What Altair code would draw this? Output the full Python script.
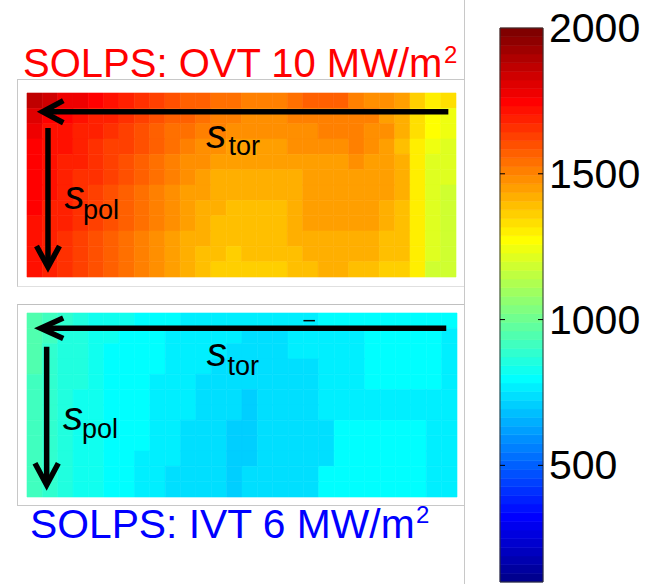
import math

import altair as alt
import numpy as np
import pandas as pd

# Heat flux on the divertor target tiles, 12 poloidal rows x 28 toroidal columns
# (row 0 at the top, column 0 at the left).
OVT_ROWS = [
    [1860, 1830, 1780, 1770, 1760, 1730, 1690, 1650, 1630, 1600, 1580, 1560, 1540, 1530, 1520, 1520, 1520, 1530, 1560, 1560, 1560, 1520, 1490, 1470, 1440, 1370, 1310, 1340],
    [1820, 1760, 1740, 1720, 1700, 1690, 1660, 1630, 1600, 1580, 1560, 1540, 1520, 1510, 1490, 1490, 1490, 1520, 1520, 1520, 1520, 1510, 1500, 1450, 1420, 1330, 1260, 1250],
    [1780, 1730, 1720, 1700, 1680, 1660, 1640, 1610, 1580, 1550, 1530, 1510, 1500, 1490, 1480, 1480, 1480, 1490, 1490, 1500, 1500, 1500, 1490, 1470, 1420, 1330, 1260, 1250],
    [1760, 1720, 1710, 1690, 1670, 1640, 1620, 1590, 1560, 1530, 1510, 1490, 1470, 1460, 1450, 1450, 1450, 1470, 1470, 1480, 1480, 1500, 1480, 1450, 1400, 1290, 1240, 1220],
    [1750, 1720, 1700, 1680, 1660, 1630, 1600, 1570, 1540, 1510, 1490, 1470, 1450, 1440, 1440, 1440, 1440, 1440, 1460, 1460, 1460, 1480, 1450, 1450, 1420, 1290, 1210, 1210],
    [1750, 1720, 1690, 1670, 1650, 1620, 1590, 1560, 1530, 1500, 1470, 1450, 1430, 1420, 1420, 1420, 1420, 1420, 1450, 1450, 1450, 1450, 1450, 1440, 1410, 1290, 1210, 1200],
    [1740, 1710, 1690, 1660, 1640, 1610, 1580, 1550, 1520, 1490, 1460, 1440, 1420, 1410, 1410, 1410, 1410, 1420, 1450, 1450, 1450, 1450, 1450, 1440, 1410, 1290, 1210, 1190],
    [1740, 1700, 1680, 1650, 1630, 1600, 1570, 1540, 1510, 1480, 1450, 1430, 1410, 1400, 1400, 1390, 1390, 1410, 1440, 1440, 1440, 1440, 1440, 1430, 1400, 1290, 1200, 1170],
    [1730, 1700, 1680, 1650, 1620, 1590, 1560, 1530, 1500, 1470, 1440, 1420, 1400, 1390, 1400, 1390, 1390, 1410, 1440, 1440, 1440, 1440, 1440, 1430, 1400, 1290, 1200, 1170],
    [1730, 1700, 1670, 1640, 1610, 1580, 1550, 1520, 1490, 1460, 1430, 1410, 1390, 1380, 1390, 1390, 1390, 1410, 1430, 1430, 1430, 1410, 1420, 1400, 1390, 1290, 1210, 1170],
    [1720, 1690, 1660, 1630, 1600, 1570, 1540, 1510, 1480, 1450, 1420, 1400, 1380, 1370, 1380, 1380, 1380, 1400, 1430, 1430, 1430, 1410, 1420, 1400, 1390, 1290, 1210, 1170],
    [1720, 1690, 1660, 1630, 1600, 1560, 1530, 1500, 1470, 1440, 1410, 1390, 1370, 1360, 1370, 1370, 1370, 1390, 1400, 1410, 1410, 1390, 1380, 1370, 1350, 1290, 1190, 1170],
]

IVT_ROWS = [
    [950, 910, 880, 850, 830, 815, 815, 800, 800, 785, 780, 775, 770, 765, 765, 765, 765, 770, 780, 785, 795, 800, 805, 810, 810, 800, 795, 790],
    [940, 905, 870, 850, 830, 815, 812, 795, 790, 775, 770, 765, 760, 755, 750, 750, 750, 760, 780, 780, 780, 780, 812, 812, 812, 790, 785, 770],
    [940, 900, 870, 845, 830, 812, 810, 795, 785, 770, 765, 760, 755, 750, 750, 750, 750, 760, 780, 780, 780, 780, 812, 812, 812, 790, 785, 770],
    [935, 895, 865, 845, 825, 812, 805, 790, 785, 765, 760, 755, 750, 745, 740, 740, 740, 740, 740, 765, 765, 765, 790, 812, 812, 785, 785, 760],
    [930, 895, 865, 845, 825, 812, 805, 790, 780, 765, 760, 750, 745, 740, 740, 740, 740, 740, 740, 765, 765, 765, 785, 795, 795, 785, 785, 760],
    [930, 890, 860, 840, 825, 810, 805, 785, 780, 760, 755, 745, 740, 730, 720, 740, 740, 740, 740, 775, 775, 775, 775, 775, 775, 775, 755, 755],
    [925, 890, 860, 840, 825, 810, 800, 785, 780, 760, 755, 745, 735, 725, 720, 740, 740, 740, 740, 775, 775, 775, 775, 775, 775, 775, 755, 755],
    [925, 890, 860, 840, 820, 810, 800, 785, 775, 755, 750, 740, 730, 720, 720, 730, 730, 750, 750, 750, 785, 785, 785, 785, 785, 785, 755, 755],
    [920, 885, 860, 840, 820, 808, 800, 785, 775, 755, 750, 740, 730, 720, 720, 730, 730, 750, 750, 750, 785, 785, 785, 785, 785, 785, 755, 755],
    [920, 885, 855, 835, 820, 808, 800, 780, 775, 755, 745, 735, 730, 720, 720, 730, 730, 750, 750, 750, 785, 785, 785, 785, 785, 785, 755, 755],
    [920, 885, 855, 835, 820, 805, 795, 780, 770, 750, 745, 735, 725, 720, 725, 740, 740, 740, 740, 785, 785, 785, 785, 785, 785, 785, 755, 755],
    [915, 880, 855, 835, 815, 805, 795, 780, 770, 750, 745, 735, 725, 720, 725, 740, 740, 740, 740, 785, 785, 785, 785, 785, 785, 785, 755, 755],
]

OVT_TITLE = "SOLPS: OVT 10 MW/m"
IVT_TITLE = "SOLPS: IVT 6 MW/m"
CBAR_DOMAIN = [100, 2000]
CBAR_LABELS = [500, 1000, 1500, 2000]
CBAR_TICKS = [500, 1000, 1500]
N_LEVELS = 64

FONT = "Liberation Sans"


def jet(m):
    """MATLAB-style jet colormap with m entries, as hex strings."""
    n = math.ceil(m / 4)
    u = np.concatenate([np.arange(1, n + 1) / n, np.ones(n - 1), np.arange(n, 0, -1) / n])
    g = math.ceil(n / 2) - (1 if m % 4 == 1 else 0) + np.arange(1, len(u) + 1)
    r = g + n
    b = g - n
    rgb = np.zeros((m, 3))
    rgb[r[r <= m] - 1, 0] = u[r <= m]
    rgb[g[g <= m] - 1, 1] = u[g <= m]
    rgb[b[b >= 1] - 1, 2] = u[b >= 1]
    return ["#%02x%02x%02x" % tuple(int(round(c * 255)) for c in row) for row in rgb]


JET = jet(N_LEVELS)
color_scale = alt.Scale(type="quantize", domain=CBAR_DOMAIN, range=JET)


def cells(rows):
    recs = []
    for i, row in enumerate(rows):
        for j, v in enumerate(row):
            recs.append({"c0": j, "c1": j + 1, "r0": i, "r1": i + 1, "v": v})
    return pd.DataFrame(recs)


def panel_scales(x_rng, y_rng):
    sx = alt.Scale(domain=[0, 28], range=x_rng, nice=False, zero=False)
    sy = alt.Scale(domain=[0, 12], range=y_rng, nice=False, zero=False)
    return sx, sy


def heat_layer(rows, sx, sy):
    return alt.Chart(cells(rows)).mark_rect(strokeWidth=0.6).encode(
        x=alt.X("c0:Q", scale=sx, axis=None),
        x2="c1:Q",
        y=alt.Y("r0:Q", scale=sy, axis=None),
        y2="r1:Q",
        color=alt.Color("v:Q", scale=color_scale, legend=None),
        stroke=alt.Stroke("v:Q", scale=color_scale, legend=None),
    )


def path_layer(paths, sx, sy, width):
    recs = []
    for pid, pts in enumerate(paths):
        for k, (x, y) in enumerate(pts):
            recs.append({"pid": pid, "k": k, "x": x, "y": y})
    return alt.Chart(pd.DataFrame(recs)).mark_line(
        color="black", strokeWidth=width, strokeJoin="miter", strokeCap="butt"
    ).encode(
        x=alt.X("x:Q", scale=sx, axis=None),
        y=alt.Y("y:Q", scale=sy, axis=None),
        detail="pid:N",
        order="k:Q",
    )


def label_layers(s_tor, s_pol, sx, sy):
    # s_tor / s_pol : italic "s" with an upright subscript
    main = pd.DataFrame([
        {"x": s_tor[0], "y": s_tor[1], "t": "s"},
        {"x": s_pol[0], "y": s_pol[1], "t": "s"},
    ])
    sub = pd.DataFrame([
        {"x": s_tor[2], "y": s_tor[3], "t": "tor"},
        {"x": s_pol[2], "y": s_pol[3], "t": "pol"},
    ])
    big = alt.Chart(main).mark_text(
        font=FONT, fontSize=40, fontStyle="italic", align="left", baseline="alphabetic", color="black"
    ).encode(x=alt.X("x:Q", scale=sx, axis=None), y=alt.Y("y:Q", scale=sy, axis=None), text="t:N")
    small = alt.Chart(sub).mark_text(
        font=FONT, fontSize=27, align="left", baseline="alphabetic", color="black"
    ).encode(x=alt.X("x:Q", scale=sx, axis=None), y=alt.Y("y:Q", scale=sy, axis=None), text="t:N")
    return [big, small]


# ---- outer-target panel (top) ----
tx, ty = panel_scales([27, 456], [93, 277])
top_arrows = path_layer(
    [
        [(27.5, 1.22), (1.1, 1.22)],
        [(2.37, 0.50), (1.02, 1.22), (2.37, 1.94)],
        [(1.37, 2.28), (1.37, 11.25)],
        [(0.62, 9.98), (1.37, 11.35), (2.12, 9.98)],
    ],
    tx, ty, 5.5,
)
top_layers = [heat_layer(OVT_ROWS, tx, ty), top_arrows] + label_layers(
    (11.7, 3.59, 13.15, 4.05), (2.45, 7.57, 3.65, 8.22), tx, ty
)

# ---- inner-target panel (bottom) ----
bx, by = panel_scales([27, 457], [313, 497])
bot_arrows = path_layer(
    [
        [(27.3, 1.0), (0.95, 1.0)],
        [(2.36, 0.33), (0.89, 1.0), (2.36, 1.67)],
        [(1.28, 2.2), (1.28, 11.1)],
        [(0.52, 9.8), (1.28, 11.22), (2.04, 9.8)],
    ],
    bx, by, 5.5,
)
bot_dash = path_layer([[(18.0, 0.5), (18.75, 0.5)]], bx, by, 1.5)
bot_layers = [heat_layer(IVT_ROWS, bx, by), bot_arrows, bot_dash] + label_layers(
    (11.7, 3.46, 13.05, 4.04), (2.35, 7.63, 3.58, 8.15), bx, by
)

# ---- colour bar ----
cy = alt.Scale(domain=CBAR_DOMAIN, range=[582, 28], nice=False, zero=False)
step = (CBAR_DOMAIN[1] - CBAR_DOMAIN[0]) / N_LEVELS
levels = pd.DataFrame({
    "lo": [CBAR_DOMAIN[0] + i * step for i in range(N_LEVELS)],
    "hi": [CBAR_DOMAIN[0] + (i + 1) * step for i in range(N_LEVELS)],
    "mid": [CBAR_DOMAIN[0] + (i + 0.5) * step for i in range(N_LEVELS)],
})
cbar = alt.Chart(levels).mark_rect(strokeWidth=0.6).encode(
    x=alt.value(500), x2=alt.value(543),
    y=alt.Y("lo:Q", scale=cy, axis=None), y2="hi:Q",
    color=alt.Color("mid:Q", scale=color_scale, legend=None),
    stroke=alt.Stroke("mid:Q", scale=color_scale, legend=None),
)
cbar_frame = alt.Chart(pd.DataFrame({"a": [CBAR_DOMAIN[0]], "b": [CBAR_DOMAIN[1]]})).mark_rect(
    fill=None, stroke="#333333", strokeWidth=1
).encode(x=alt.value(500), x2=alt.value(543), y=alt.Y("a:Q", scale=cy, axis=None), y2="b:Q")
tick_df = pd.DataFrame({"t": CBAR_TICKS})
tick_left = alt.Chart(tick_df).mark_rule(color="black", strokeWidth=1).encode(
    x=alt.value(500), x2=alt.value(505), y=alt.Y("t:Q", scale=cy, axis=None)
)
tick_right = alt.Chart(tick_df).mark_rule(color="black", strokeWidth=1).encode(
    x=alt.value(538), x2=alt.value(543), y=alt.Y("t:Q", scale=cy, axis=None)
)
cbar_labels = alt.Chart(pd.DataFrame({"t": CBAR_LABELS})).mark_text(
    font=FONT, fontSize=41, align="left", baseline="middle", dy=2, color="black"
).encode(x=alt.value(549), y=alt.Y("t:Q", scale=cy, axis=None), text="t:Q")


# ---- panel titles ----
def title(txt, x, y, size, sup_x, sup_y, color):
    main = alt.Chart(pd.DataFrame({"t": [txt]})).mark_text(
        font=FONT, fontSize=size, align="left", baseline="alphabetic", color=color
    ).encode(x=alt.value(x), y=alt.value(y), text="t:N")
    sup = alt.Chart(pd.DataFrame({"t": ["2"]})).mark_text(
        font=FONT, fontSize=24, align="left", baseline="alphabetic", color=color
    ).encode(x=alt.value(sup_x), y=alt.value(sup_y), text="t:N")
    return [main, sup]


titles = (title(OVT_TITLE, 23, 77, 40, 444, 63, "#ff0000")
          + title(IVT_TITLE, 30, 538, 40.8, 416, 523, "#0000ff"))


# ---- light grey frames around the panels ----
def hline(x1, x2, y, c):
    return alt.Chart(pd.DataFrame({"k": [0]})).mark_rule(color=c, strokeWidth=1).encode(
        x=alt.value(x1), x2=alt.value(x2), y=alt.value(y)
    )


def vline(x, y1, y2, c):
    return alt.Chart(pd.DataFrame({"k": [0]})).mark_rule(color=c, strokeWidth=1).encode(
        x=alt.value(x), y=alt.value(y1), y2=alt.value(y2)
    )


frames = [
    hline(17, 464.5, 79.5, "#c8c8c8"),
    hline(17, 464.5, 286.5, "#e0e0e0"),
    hline(17, 464.5, 304.5, "#c0c0c0"),
    hline(17, 464.5, 505.5, "#c8c8c8"),
    vline(17.5, 79.5, 286.5, "#c8c8c8"),
    vline(17.5, 304.5, 505.5, "#c8c8c8"),
    vline(464.5, 0, 584, "#c8c8c8"),
]

chart = alt.layer(
    *frames,
    *top_layers,
    *bot_layers,
    cbar, cbar_frame, tick_left, tick_right, cbar_labels,
    *titles,
).resolve_scale(
    x="independent", y="independent"
).properties(
    width=662, height=584, padding=0, autosize=alt.AutoSizeParams(type="none"),
    background="white",
).configure_view(stroke=None)

chart.save("out.html", embed_options={"renderer": "svg", "actions": False})
